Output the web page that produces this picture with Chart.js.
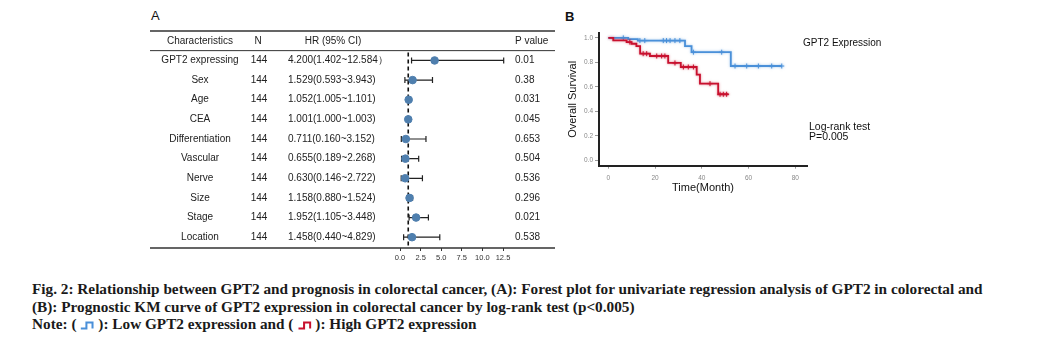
<!DOCTYPE html>
<html>
<head>
<meta charset="utf-8">
<script src="https://cdn.jsdelivr.net/npm/chart.js@4.4.1/dist/chart.umd.min.js"></script>
<style>
  body { margin: 0; background: #fff; width: 1041px; height: 337px; position: relative; overflow: hidden; font-family: "Liberation Sans", Arial, sans-serif; }
  #wrapA { position: absolute; left: 140px; top: 0; width: 420px; height: 275px; }
  #wrapB { position: absolute; left: 560px; top: 0; width: 340px; height: 200px; }
  .panel { position: absolute; font-size: 13px; color: #111; line-height: 13px; }
  #caption { position: absolute; left: 32px; top: 281px; font-family: "Liberation Serif", "Times New Roman", serif; font-weight: bold; font-size: 15px; line-height: 17.5px; color: #1a1a1a; white-space: nowrap; transform-origin: 0 0; }
  #caption svg { vertical-align: -1px; }
</style>
</head>
<body>
<div class="panel" style="left:151px;top:9px;">A</div>
<div class="panel" style="left:565px;top:10px;font-weight:bold;">B</div>
<div id="wrapA"><canvas id="forestChart" width="420" height="275"></canvas></div>
<div id="wrapB"><canvas id="kmChart" width="340" height="200"></canvas></div>
<div id="caption">
  <div id="capLine1">Fig. 2: Relationship between GPT2 and prognosis in colorectal cancer, (A): Forest plot for univariate regression analysis of GPT2 in colorectal and</div>
  <div>(B): Prognostic KM curve of GPT2 expression in colorectal cancer by log-rank test (p&lt;0.005)</div>
  <div>Note: ( <svg width="14" height="9"><path d="M1 7.5 H6.5 V1.5 H12.5 V7.5" fill="none" stroke="#4a90d9" stroke-width="2"/></svg> ): Low GPT2 expression and ( <svg width="14" height="9"><path d="M1 7.5 H6.5 V1.5 H12.5 V7.5" fill="none" stroke="#c8102e" stroke-width="2"/></svg> ): High GPT2 expression</div>
</div>
<script>
// forest plot data
const characteristics = ['GPT2 expressing', 'Sex', 'Age', 'CEA', 'Differentiation', 'Vascular', 'Nerve', 'Size', 'Stage', 'Location'];
const nCounts = [144, 144, 144, 144, 144, 144, 144, 144, 144, 144];
const hr = [4.200, 1.529, 1.052, 1.001, 0.711, 0.655, 0.630, 1.158, 1.952, 1.458];
const ciLow = [1.402, 0.593, 1.005, 1.000, 0.160, 0.189, 0.146, 0.880, 1.105, 0.440];
const ciHigh = [12.584, 3.943, 1.101, 1.003, 3.152, 2.268, 2.722, 1.524, 3.448, 4.829];
const hrLabels = ['4.200(1.402~12.584\uff09', '1.529(0.593~3.943)', '1.052(1.005~1.101)', '1.001(1.000~1.003)',
  '0.711(0.160~3.152)', '0.655(0.189~2.268)', '0.630(0.146~2.722)', '1.158(0.880~1.524)',
  '1.952(1.105~3.448)', '1.458(0.440~4.829)'];
const pValues = ['0.01', '0.38', '0.031', '0.045', '0.653', '0.504', '0.536', '0.296', '0.021', '0.538'];
const forestTicks = [0, 2.5, 5, 7.5, 10, 12.5];

// KM curve data (step points: time in months, survival after the drop)
const lowTimes = [0, 8.5, 12.6, 32.8, 35.6, 52.4, 74.2];
const lowSurv = [1.0, 0.99, 0.978, 0.933, 0.883, 0.77, 0.77];
const lowCensor = [6.4, 13.5, 15.6, 23.5, 24.9, 26.4, 28.5, 30.6, 36.4, 48.5, 54.2, 59.2, 64.2, 69.9, 74.2];
const highTimes = [0, 2.1, 7.8, 9.9, 12.0, 13.6, 17.8, 25.6, 31.0, 37.8, 39.2, 47.0, 51.4];
const highSurv = [1.0, 0.98, 0.966, 0.952, 0.933, 0.871, 0.852, 0.795, 0.762, 0.70, 0.626, 0.539, 0.539];
const highCensor = [9.2, 14.9, 16.4, 20.7, 22.8, 24.2, 28.5, 32.1, 34.2, 36.4, 43.5, 47.8, 49.2, 50.6];
const kmTicksX = [0, 20, 40, 60, 80];
const kmTicksY = [0, 0.2, 0.4, 0.6, 0.8, 1.0];

const blue = '#4a90d9';
const red = '#c8102e';

function survAt(times, surv, t) {
  let s = surv[0];
  for (let i = 0; i < times.length; i++) {
    if (times[i] <= t) s = surv[i];
  }
  return s;
}

const forestTable = {
  id: 'forestTable',
  beforeDatasetsDraw(chart) {
    const { ctx, scales: { x, y } } = chart;
    ctx.save();
    // reference line at HR = 1
    ctx.strokeStyle = '#111';
    ctx.lineWidth = 1.6;
    ctx.setLineDash([4, 3]);
    ctx.beginPath();
    ctx.moveTo(x.getPixelForValue(1), y.getPixelForValue(-0.4));
    ctx.lineTo(x.getPixelForValue(1), chart.chartArea.bottom);
    ctx.stroke();
    ctx.setLineDash([]);
    // confidence intervals
    ctx.strokeStyle = '#222';
    ctx.lineWidth = 1.2;
    hr.forEach((v, i) => {
      const yy = y.getPixelForValue(i);
      const x1 = x.getPixelForValue(ciLow[i]);
      const x2 = x.getPixelForValue(ciHigh[i]);
      ctx.beginPath();
      ctx.moveTo(x1, yy); ctx.lineTo(x2, yy);
      ctx.moveTo(x1, yy - 3); ctx.lineTo(x1, yy + 3);
      ctx.moveTo(x2, yy - 3); ctx.lineTo(x2, yy + 3);
      ctx.stroke();
    });
    ctx.restore();
  },
  afterDraw(chart) {
    const { ctx, scales: { y }, chartArea } = chart;
    ctx.save();
    ctx.fillStyle = '#222';
    ctx.font = '10px "Liberation Sans", Arial, sans-serif';
    ctx.textBaseline = 'middle';
    const hy = y.getPixelForValue(-1);
    ctx.textAlign = 'center';
    ctx.fillText('Characteristics', 60, hy);
    ctx.fillText('N', 118, hy);
    ctx.fillText('HR (95% CI)', 193, hy);
    ctx.textAlign = 'left';
    ctx.fillText('P value', 375, hy);
    characteristics.forEach((c, i) => {
      const yy = y.getPixelForValue(i);
      ctx.textAlign = 'center';
      ctx.fillText(c, 60, yy);
      ctx.fillText(String(nCounts[i]), 119, yy);
      ctx.textAlign = 'left';
      ctx.fillText(hrLabels[i], 148, yy);
      ctx.fillText(pValues[i], 375, yy);
    });
    ctx.strokeStyle = '#333';
    ctx.lineWidth = 1.5;
    ctx.beginPath();
    ctx.moveTo(10, chartArea.top); ctx.lineTo(415, chartArea.top);
    ctx.moveTo(10, chartArea.bottom); ctx.lineTo(415, chartArea.bottom);
    ctx.stroke();
    ctx.lineWidth = 1;
    ctx.beginPath();
    ctx.moveTo(10, y.getPixelForValue(-0.5)); ctx.lineTo(415, y.getPixelForValue(-0.5));
    ctx.stroke();
    ctx.restore();
  }
};

new Chart(document.getElementById('forestChart'), {
  type: 'scatter',
  data: {
    datasets: [{
      data: hr.map((v, i) => ({ x: v, y: i })),
      backgroundColor: '#4f7fae',
      borderColor: '#4f7fae',
      pointRadius: 3.8,
      pointHoverRadius: 3.8,
      clip: false
    }]
  },
  options: {
    responsive: false,
    animation: false,
    events: [],
    layout: { padding: { left: 260, right: 57, top: 31, bottom: 0 } },
    plugins: { legend: { display: false }, tooltip: { enabled: false } },
    scales: {
      x: {
        type: 'linear', min: 0, max: 12.5,
        afterBuildTicks: (s) => { s.ticks = forestTicks.map(v => ({ value: v })); },
        afterFit: (s) => { s.height = 27; },
        ticks: { callback: (v) => v.toFixed(1), font: { size: 7.5 }, color: '#333', padding: 2, autoSkip: false, maxRotation: 0 },
        grid: { drawOnChartArea: false, tickLength: 3, color: '#333' },
        border: { display: false }
      },
      y: { type: 'linear', reverse: true, min: -1.5, max: 9.55, display: false }
    }
  },
  plugins: [forestTable]
});

// soft halo around the survival curves, like the original export
const kmGlow = {
  id: 'kmGlow',
  beforeDatasetDraw(chart, args) {
    const ds = chart.data.datasets[args.index];
    chart.ctx.save();
    chart.ctx.shadowColor = ds.borderColor + '88';
    chart.ctx.shadowBlur = 2.5;
  },
  afterDatasetDraw(chart) {
    chart.ctx.restore();
  }
};

const kmText = {
  id: 'kmText',
  afterDraw(chart) {
    const { ctx } = chart;
    ctx.save();
    ctx.fillStyle = '#111';
    ctx.textBaseline = 'middle';
    ctx.font = '10px "Liberation Sans", Arial, sans-serif';
    ctx.fillText('GPT2 Expression', 243, 43);
    ctx.font = '10.5px "Liberation Sans", Arial, sans-serif';
    ctx.fillText('Log-rank test', 249, 127);
    ctx.fillText('P=0.005', 249, 137);
    ctx.restore();
  }
};

new Chart(document.getElementById('kmChart'), {
  type: 'line',
  data: {
    datasets: [
      {
        label: 'High',
        data: highTimes.map((t, i) => ({ x: t, y: highSurv[i] })),
        borderColor: red, borderWidth: 1.8, stepped: true, pointRadius: 0, fill: false
      },
      {
        label: 'High censored', type: 'scatter',
        data: highCensor.map(t => ({ x: t, y: survAt(highTimes, highSurv, t) })),
        pointStyle: 'cross', pointRadius: 2.5, borderColor: red, borderWidth: 1, showLine: false
      },
      {
        label: 'Low',
        data: lowTimes.map((t, i) => ({ x: t, y: lowSurv[i] })),
        borderColor: blue, borderWidth: 1.8, stepped: true, pointRadius: 0, fill: false
      },
      {
        label: 'Low censored', type: 'scatter',
        data: lowCensor.map(t => ({ x: t, y: survAt(lowTimes, lowSurv, t) })),
        pointStyle: 'cross', pointRadius: 2.5, borderColor: blue, borderWidth: 1, showLine: false
      }
    ]
  },
  options: {
    responsive: false,
    animation: false,
    events: [],
    layout: { padding: { left: 0, right: 93, top: 33, bottom: 0 } },
    plugins: { legend: { display: false }, tooltip: { enabled: false } },
    scales: {
      x: {
        type: 'linear', min: -4, max: 85,
        afterBuildTicks: (s) => { s.ticks = kmTicksX.map(v => ({ value: v })); },
        afterFit: (s) => { s.height = 34.3; },
        ticks: { font: { size: 6.5 }, color: '#888', padding: 6, maxRotation: 0 },
        grid: { drawOnChartArea: false, tickLength: 3, color: '#999' },
        border: { color: '#222', width: 2 },
        title: { display: true, text: 'Time(Month)', color: '#111', font: { size: 11 }, padding: { top: 0, bottom: 5.4 } }
      },
      y: {
        type: 'linear', min: -0.045, max: 1.04,
        afterBuildTicks: (s) => { s.ticks = kmTicksY.map(v => ({ value: v })); },
        afterFit: (s) => { s.width = 39; },
        ticks: { callback: (v) => v.toFixed(1), font: { size: 6.5 }, color: '#888', padding: 2 },
        grid: { drawOnChartArea: false, tickLength: 4, color: '#999' },
        border: { color: '#222', width: 2 },
        title: { display: true, text: 'Overall Survival', color: '#111', font: { size: 11 }, padding: { top: 6.4, bottom: 0 } }
      }
    }
  },
  plugins: [kmGlow, kmText]
});

// caption is condensed in the original figure
const line1 = document.getElementById('capLine1');
const w = line1.scrollWidth;
document.getElementById('caption').style.transform = `scaleX(${951 / w})`;
</script>
</body>
</html>
